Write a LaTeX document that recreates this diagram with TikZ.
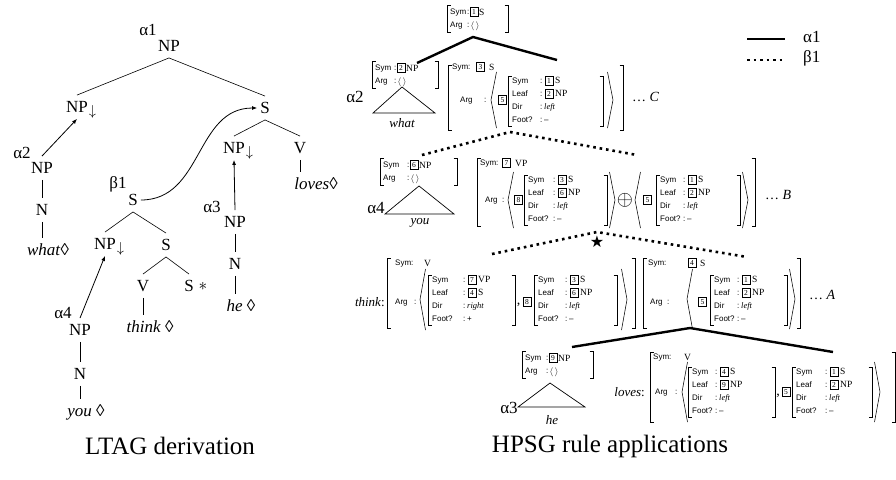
\documentclass[tikz,border=0pt]{standalone}
\usepackage{fontspec}
\setmainfont{Liberation Serif}
\setsansfont{Liberation Sans}
\newfontfamily\djv{DejaVu Sans}
\usetikzlibrary{arrows.meta}

\tikzset{
  tr/.style={font=\fontsize{17}{17}\selectfont, inner xsep=3pt, inner ysep=6pt, text height=11.5pt, text depth=0pt},
  lab/.style={font=\fontsize{17}{17}\selectfont, inner sep=0pt},
  dn/.style={font=\fontsize{14}{14}\selectfont, inner sep=0pt, yshift=-5pt, label distance=-2.5pt},
  ast/.style={font=\fontsize{17}{17}\selectfont, inner sep=0pt, label distance=1.5pt},
  ft/.style={font=\sffamily\fontsize{8}{8}\selectfont, inner sep=0pt, anchor=west, text height=5.8pt, text depth=0pt},
  vl/.style={font=\fontsize{9.5}{9.5}\selectfont, inner sep=0pt, anchor=west, text height=6.3pt, text depth=0pt},
  iv/.style={font=\itshape\fontsize{8.5}{8.5}\selectfont, inner sep=0pt, anchor=west, text height=6pt, text depth=0pt},
  tg/.style={draw, line width=0.5pt, font=\fontsize{7.5}{7.5}\selectfont, inner sep=0pt, minimum width=8pt, minimum height=9pt, text height=5.1pt, text depth=0pt},
  wd/.style={font=\itshape\fontsize{13}{13}\selectfont, inner sep=0pt},
  dts/.style={font=\fontsize{14}{14}\selectfont, inner sep=0pt, anchor=west},
  commatxt/.style={font=\fontsize{14}{14}\selectfont, inner sep=0pt},
  br/.style={line width=0.55pt},
  tri/.style={line width=0.7pt},
  edge/.style={line width=0.6pt},
  arr/.style={line width=0.8pt, -{Latex[length=5pt,width=4pt]}},
  solidline/.style={line width=2.4pt},
  dotline/.style={line width=2.6pt, dash pattern=on 2.6pt off 3.9pt},
  captxt/.style={font=\fontsize{25}{25}\selectfont, inner sep=0pt},
}

\newcommand{\lbr}[3]{\draw[br] (#1+3.5,#2) -- (#1,#2) -- (#1,#3) -- (#1+3.5,#3);}
\newcommand{\rbr}[3]{\draw[br] (#1-3.5,#2) -- (#1,#2) -- (#1,#3) -- (#1-3.5,#3);}
\newcommand{\lang}[3]{\draw[br] (#1+5.5,#2) -- (#1,{(#2+#3)/2}) -- (#1+5.5,#3);}
\newcommand{\rang}[3]{\draw[br] (#1-5.5,#2) -- (#1,{(#2+#3)/2}) -- (#1-5.5,#3);}
\newcommand{\dirv}{left}
\newcommand{\footv}{–}
% name, x, top, width, colon offset, tag1, val1, tag2, val2
\newcommand{\innerfs}[9]{%
  \lbr{#2}{#3}{#3+50}
  \rbr{#2+#4}{#3}{#3+50}
  \node[ft] (#1-a) at (#2+4,#3+4.5) {Sym};
  \node[ft] (#1-ac) at (#2+#5,#3+4.5) {:};
  \node[tg] (#1-at) at (#2+#5+9,#3+4.5) {#6};
  \node[vl] (#1-av) at (#2+#5+15,#3+4.5) {#7};
  \node[ft] (#1-b) at (#2+4,#3+17.5) {Leaf};
  \node[ft] (#1-bc) at (#2+#5,#3+17.5) {:};
  \node[tg] (#1-bt) at (#2+#5+9,#3+17.5) {#8};
  \node[vl] (#1-bv) at (#2+#5+15,#3+17.5) {#9};
  \node[ft] (#1-c) at (#2+4,#3+30.5) {Dir};
  \node[ft] (#1-cc) at (#2+#5,#3+30.5) {:};
  \node[iv] (#1-cv) at (#2+#5+4,#3+30.5) {\dirv};
  \node[ft] (#1-d) at (#2+4,#3+43.5) {Foot?};
  \node[ft] (#1-dc) at (#2+#5,#3+43.5) {:};
  \node[ft] (#1-dv) at (#2+#5+4,#3+43.5) {\footv};
}
% name, x, top, width, colon offset, tag, val
\newcommand{\smallfs}[7]{%
  \lbr{#2}{#3}{#3+27}
  \rbr{#2+#4}{#3}{#3+27}
  \node[ft] (#1-a) at (#2+3,#3+7) {Sym};
  \node[ft] (#1-ac) at (#2+#5,#3+7) {:};
  \node[tg] (#1-at) at (#2+#5+7,#3+7) {#6};
  \node[vl] (#1-av) at (#2+#5+12,#3+7) {#7};
  \node[ft] (#1-b) at (#2+3,#3+20) {Arg};
  \node[ft] (#1-bc) at (#2+#5,#3+20) {:};
  \node[vl] (#1-bv) at (#2+#5+3.5,#3+20) {$\langle\,\rangle$};
}

\begin{document}
\begin{tikzpicture}[x=1pt,y=-1pt]
\useasboundingbox (0,0) rectangle (896,479);

% ================= LTAG derivation (left) =================
\node[lab] (a1) at (148,30) {α1};
\node[tr] (np0) at (169,46) {NP};
\node[tr, label={[dn]east:$\downarrow$}] (np1) at (77,107) {NP};
\node[tr] (s0) at (265,108) {S};
\node[lab] (a2) at (22,153) {α2};
\node[tr] (np2) at (42,168) {NP};
\node[tr] (n2) at (42,210) {N};
\node[tr] (w2) at (48,250) {\textit{what}◊};
\node[lab] (b1) at (118,184) {β1};
\node[tr] (s1) at (133,200) {S};
\node[tr, label={[dn]east:$\downarrow$}] (np3) at (105,244) {NP};
\node[tr] (s2) at (166,245) {S};
\node[tr] (v1) at (143,286) {V};
\node[tr, label={[ast]east:$\ast$}] (s3) at (189,286) {S};
\node[tr] (th) at (150,327) {\textit{think} ◊};
\node[lab] (a4) at (63,313) {α4};
\node[tr] (np4) at (80,330) {NP};
\node[tr] (n4) at (80,374) {N};
\node[tr] (yo) at (86,411) {\textit{you} ◊};
\node[tr, label={[dn]east:$\downarrow$}] (np5) at (234,148) {NP};
\node[tr] (v2) at (300,148) {V};
\node[tr] (lv) at (316,184) {\textit{loves}◊};
\node[lab] (a3) at (212,207) {α3};
\node[tr] (np6) at (235,222) {NP};
\node[tr] (n6) at (235,264) {N};
\node[tr] (he) at (241,306) {\textit{he} ◊};

\draw[edge] (np0.south) -- (np1.north);
\draw[edge] (np0.south) -- (s0.north);
\draw[edge] (s0.south) -- (np5.north);
\draw[edge] (s0.south) -- (v2.north);
\draw[edge] (v2.south) -- (v2.south |- lv.north);
\draw[edge] (np2.south) -- (n2.north);
\draw[edge] (n2.south) -- (n2.south |- w2.north);
\draw[edge] (s1.south) -- (np3.north);
\draw[edge] (s1.south) -- (s2.north);
\draw[edge] (s2.south) -- (v1.north);
\draw[edge] (s2.south) -- (s3.north);
\draw[edge] (v1.south) -- (v1.south |- th.north);
\draw[edge] (np4.south) -- (n4.north);
\draw[edge] (n4.south) -- (n4.south |- yo.north);
\draw[edge] (np6.south) -- (n6.north);
\draw[edge] (n6.south) -- (n6.south |- he.north);

\draw[arr] (np2.north) -- (np1.south);
\draw[arr] (np4.north) -- (np3.south);
\draw[arr] (np6.north) -- (np5.south);
\draw[arr] (s1.east) .. controls +(62,0) and +(-62,0) .. (s0.west);

\node[captxt] (cap1) at (170,446) {LTAG derivation};

% ================= HPSG rule applications (right) =================
% legend
\coordinate (lg1a) at (747,39); \coordinate (lg1b) at (785,39);
\coordinate (lg2a) at (747,60); \coordinate (lg2b) at (785,60);
\draw[solidline] (lg1a) -- (lg1b);
\draw[dotline] (lg2a) -- (lg2b);
\node[lab, anchor=west] (lga) at (803,37) {α1};
\node[lab, anchor=west] (lgb) at (803,58) {β1};

% top AVM
\smallfs{T}{447}{5}{61}{20}{1}{S}

% alpha2
\smallfs{Ab}{372}{61}{66}{22}{2}{NP}
\node[lab] (a2r) at (355,97) {α2};
\coordinate (t2a) at (402,87); \coordinate (t2b) at (373,113); \coordinate (t2c) at (435,113);
\draw[tri] (t2a) -- (t2b) -- (t2c) -- cycle;
\node[wd] (what) at (402,123) {what};

% C AVM
\lbr{448}{65}{130} \rbr{623}{65}{130}
\node[ft] (C-s) at (452,67) {Sym};
\node[ft] (C-sc) at (468,67) {:};
\node[tg] (C-st) at (480.5,67) {3};
\node[vl] (C-sv) at (489,67) {S};
\node[ft] (C-g) at (460,100) {Arg};
\node[ft] (C-gc) at (484,100) {:};
\lang{491}{72}{128}
\node[tg] (C-gt) at (502.5,100) {5};
\innerfs{Ci}{508}{76}{95}{32}{1}{S}{2}{NP}
\rang{613}{72}{128}
\node[dts] (C-d) at (632,97) {…\ \textit{C}};

% alpha1 solid lines
\coordinate (p1) at (473,37); \coordinate (p1l) at (417,63); \coordinate (p1r) at (557,60);
\draw[solidline] (p1l) -- (p1) -- (p1r);

% beta1 dotted lines (upper)
\coordinate (q1) at (510,132); \coordinate (q1l) at (422,155); \coordinate (q1r) at (637,155);
\draw[dotline] (q1l) -- (q1) -- (q1r);

% alpha4
\smallfs{Ad}{380}{158}{77}{27}{6}{NP}
\node[lab] (a4r) at (376,208) {α4};
\coordinate (t4a) at (419,186); \coordinate (t4b) at (385,214); \coordinate (t4c) at (454,214);
\draw[tri] (t4a) -- (t4b) -- (t4c) -- cycle;
\node[wd] (you) at (420,223) {you};

% B AVM
\lbr{477}{158}{226} \rbr{755}{158}{226}
\node[ft] (B-s) at (480,163) {Sym};
\node[ft] (B-sc) at (496,163) {:};
\node[tg] (B-st) at (506.5,163) {7};
\node[vl] (B-sv) at (515,163) {VP};
\node[ft] (B-g) at (485,200) {Arg};
\node[ft] (B-gc) at (502,200) {:};
\lang{508}{172}{228}
\node[tg] (B-gt) at (518.5,200) {8};
\innerfs{Bi}{524}{175}{83}{29}{3}{S}{6}{NP}
\rang{615}{172}{228}
\node[font=\fontsize{21}{21}\selectfont, inner sep=0pt] (B-op) at (625,200) {$\oplus$};
\lang{635}{172}{228}
\node[tg] (B-gt2) at (647.5,200) {5};
\innerfs{Bj}{656}{175}{84}{27}{1}{S}{2}{NP}
\rang{748}{172}{228}
\node[dts] (B-d) at (765,195) {…\ \textit{B}};

% beta1 dotted lines (lower) + star
\coordinate (q2) at (597,232); \coordinate (q2l) at (492,254); \coordinate (q2r) at (747,257);
\draw[dotline] (q2l) -- (q2) -- (q2r);
\node[font=\djv\fontsize{16}{16}\selectfont, inner sep=0pt] (star) at (597,242) {★};

% think AVM
\node[font=\fontsize{13}{13}\selectfont, inner sep=0pt, anchor=east] (thk) at (385,302) {\textit{think}:};
\lbr{387}{258}{328} \rbr{635}{258}{328}
\node[ft] (T2-s) at (395,263) {Sym};
\node[ft] (T2-sc) at (411,263) {:};
\node[vl] (T2-sv) at (424,263) {V};
\node[ft] (T2-g) at (395,302) {Arg};
\node[ft] (T2-gc) at (414,302) {:};
\lang{420}{269}{330}
\renewcommand{\dirv}{right}\renewcommand{\footv}{+}
\innerfs{Ti}{428}{275}{87}{35}{7}{VP}{4}{S}
\renewcommand{\dirv}{left}\renewcommand{\footv}{–}
\node[commatxt] (T2-cm) at (518.5,305) {,};
\node[tg] (T2-gt) at (527,302) {8};
\innerfs{Tj}{534}{275}{83}{31}{3}{S}{6}{NP}
\rang{627}{269}{330}

% A AVM
\lbr{643}{258}{328} \rbr{800}{258}{328}
\node[ft] (A-s) at (648,263) {Sym};
\node[ft] (A-sc) at (664,263) {:};
\node[tg] (A-st) at (692,263) {4};
\node[vl] (A-sv) at (700,263) {S};
\node[ft] (A-g) at (650,302) {Arg};
\node[ft] (A-gc) at (667,302) {:};
\lang{687}{269}{329}
\node[tg] (A-gt) at (702.5,302) {5};
\innerfs{Ai}{710}{275}{77}{27}{1}{S}{2}{NP}
\rang{795}{269}{329}
\node[dts] (A-d) at (809,295) {…\ \textit{A}};

% alpha1 solid lines (lower)
\coordinate (p2) at (690,328); \coordinate (p2l) at (572,347); \coordinate (p2r) at (833,352);
\draw[solidline] (p2l) -- (p2) -- (p2r);

% alpha3
\smallfs{Ac}{522}{351}{71}{24}{9}{NP}
\node[lab] (a3r) at (509,408) {α3};
\coordinate (t3a) at (550,383); \coordinate (t3b) at (518,407); \coordinate (t3c) at (585,407);
\draw[tri] (t3a) -- (t3b) -- (t3c) -- cycle;
\node[wd] (hew) at (552,420) {he};

% loves AVM
\node[font=\fontsize{13}{13}\selectfont, inner sep=0pt, anchor=east] (lvs) at (645,392) {\textit{loves}:};
\lbr{650}{352}{422} \rbr{895}{352}{422}
\node[ft] (L-s) at (653,357) {Sym};
\node[ft] (L-sc) at (669,357) {:};
\node[vl] (L-sv) at (684,357) {V};
\node[ft] (L-g) at (655,392) {Arg};
\node[ft] (L-gc) at (675,392) {:};
\lang{682}{362}{422}
\innerfs{Li}{688}{367}{87}{27}{4}{S}{9}{NP}
\node[commatxt] (L-cm) at (778,396) {,};
\node[tg] (L-gt) at (786,392) {5};
\innerfs{Lj}{792}{367}{80}{33}{1}{S}{2}{NP}
\rang{880}{362}{422}

\node[captxt] (cap2) at (610,446) {HPSG rule applications};
\end{tikzpicture}
\end{document}
